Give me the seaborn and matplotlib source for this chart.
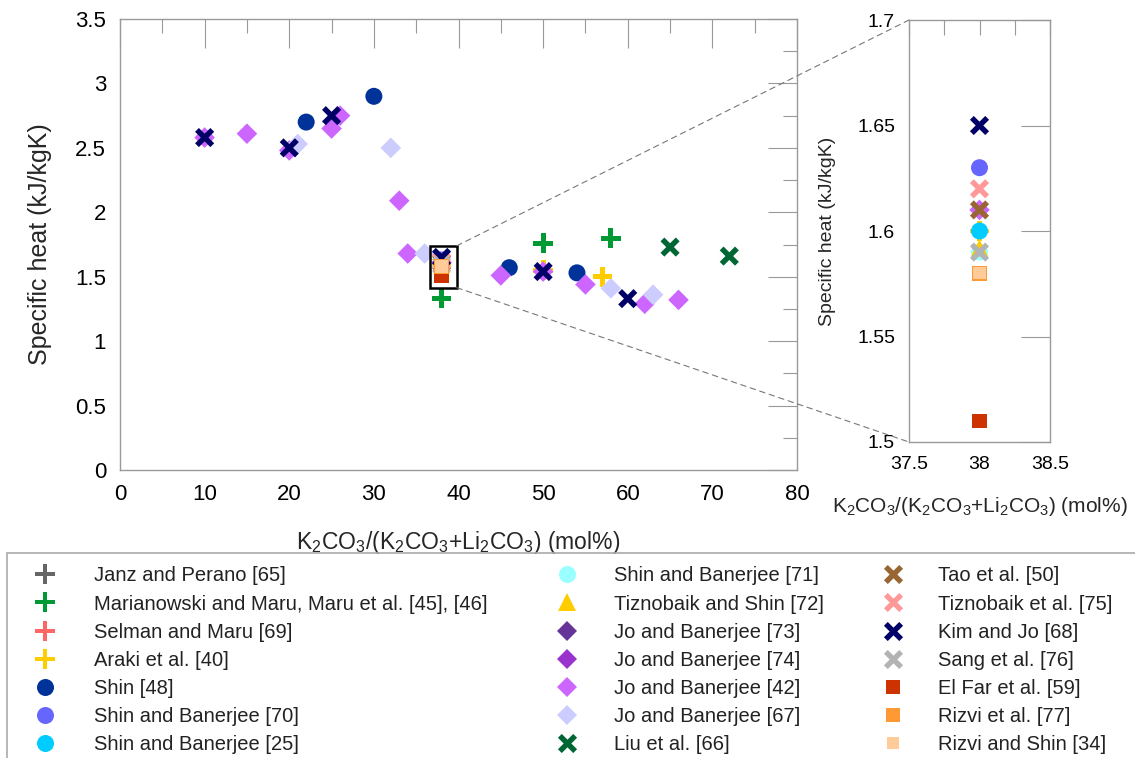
import numpy as np
import pandas as pd
import matplotlib
matplotlib.use("Agg")
import matplotlib.pyplot as plt
import seaborn as sns
from matplotlib.lines import Line2D
from matplotlib.patches import Rectangle, ConnectionPatch
from matplotlib.ticker import FormatStrFormatter

# ---------------------------------------------------------------- data
studies = [
    "Janz and Perano [65]",
    "Marianowski and Maru, Maru et al. [45], [46]",
    "Selman and Maru [69]",
    "Araki et al. [40]",
    "Shin [48]",
    "Shin and Banerjee [70]",
    "Shin and Banerjee [25]",
    "Shin and Banerjee [71]",
    "Tiznobaik and Shin [72]",
    "Jo and Banerjee [73]",
    "Jo and Banerjee [74]",
    "Jo and Banerjee [42]",
    "Jo and Banerjee [67]",
    "Liu et al. [66]",
    "Tao et al. [50]",
    "Tiznobaik et al. [75]",
    "Kim and Jo [68]",
    "Sang et al. [76]",
    "El Far et al. [59]",
    "Rizvi et al. [77]",
    "Rizvi and Shin [34]",
]

# K2CO3 fraction (mol%) and specific heat (kJ/kgK) for each study
janz_x, janz_y = [], []
maru_x, maru_y = [38, 50, 58], [1.33, 1.76, 1.80]
selman_x, selman_y = [], []
araki_x, araki_y = [38, 50, 57], [1.60, 1.55, 1.50]
shin48_x, shin48_y = [22, 30, 46, 54], [2.70, 2.90, 1.57, 1.53]
shin70_x, shin70_y = [38], [1.63]
shin25_x, shin25_y = [38], [1.60]
shin71_x, shin71_y = [38], [1.59]
tiz72_x, tiz72_y = [38], [1.592]
jo73_x, jo73_y = [], []
jo74_x, jo74_y = [], []
jo42_x = [10, 15, 20, 25, 26, 33, 34, 38, 45, 50, 55, 62, 66]
jo42_y = [2.58, 2.61, 2.48, 2.65, 2.75, 2.09, 1.68, 1.61, 1.51, 1.54, 1.44, 1.29, 1.32]
jo67_x, jo67_y = [21, 32, 36, 58, 63], [2.53, 2.50, 1.68, 1.41, 1.36]
liu_x, liu_y = [65, 72], [1.73, 1.66]
tao_x, tao_y = [38], [1.61]
tiz75_x, tiz75_y = [38], [1.62]
kim_x, kim_y = [10, 20, 25, 38, 50, 60], [2.58, 2.50, 2.75, 1.65, 1.54, 1.33]
sang_x, sang_y = [38], [1.59]
elfar_x, elfar_y = [38], [1.51]
rizvi77_x, rizvi77_y = [38], [1.58]
rizvi34_x, rizvi34_y = [38], [1.58]

series_x = [janz_x, maru_x, selman_x, araki_x, shin48_x, shin70_x, shin25_x,
            shin71_x, tiz72_x, jo73_x, jo74_x, jo42_x, jo67_x, liu_x, tao_x,
            tiz75_x, kim_x, sang_x, elfar_x, rizvi77_x, rizvi34_x]
series_y = [janz_y, maru_y, selman_y, araki_y, shin48_y, shin70_y, shin25_y,
            shin71_y, tiz72_y, jo73_y, jo74_y, jo42_y, jo67_y, liu_y, tao_y,
            tiz75_y, kim_y, sang_y, elfar_y, rizvi77_y, rizvi34_y]

main_xticks = [0, 10, 20, 30, 40, 50, 60, 70, 80]
main_yticks = [0, 0.5, 1, 1.5, 2, 2.5, 3, 3.5]
inset_xticks = [37.5, 38, 38.5]
inset_yticks = [1.5, 1.55, 1.6, 1.65, 1.7]

colors = ["#666666", "#009933", "#ff6666", "#ffcc00", "#003399", "#6666ff",
          "#00ccff", "#99ffff", "#ffcc00", "#663399", "#9933cc", "#cc66ff",
          "#ccccff", "#006633", "#996633", "#ff9999", "#000066", "#b3b3b3",
          "#cc3300", "#ff9933", "#ffcc99"]

# ---------------------------------------------------------------- markers
w = 0.125
plus_verts = [(-w, -0.5), (w, -0.5), (w, -w), (0.5, -w), (0.5, w), (w, w),
              (w, 0.5), (-w, 0.5), (-w, w), (-0.5, w), (-0.5, -w), (-w, -w)]
c, s_ = np.cos(np.pi / 4), np.sin(np.pi / 4)
cross_verts = [(x * c - y * s_, x * s_ + y * c) for x, y in plus_verts]

kind = ["plus", "plus", "plus", "plus", "circle", "circle", "circle", "circle",
        "tri", "dia", "dia", "dia", "dia", "cross", "cross", "cross", "cross",
        "cross", "sq", "sq", "sq_small"]
kind_marker = {"plus": plus_verts, "circle": "o", "tri": "^", "dia": "D",
               "cross": cross_verts, "sq": "s", "sq_small": "s"}
kind_size = {"plus": 200, "circle": 150, "tri": 150, "dia": 110,
             "cross": 190, "sq": 112, "sq_small": 80}

palette = dict(zip(studies, colors))
markers = {st: kind_marker[k] for st, k in zip(studies, kind)}
sizes = {st: kind_size[k] for st, k in zip(studies, kind)}

df = pd.DataFrame({
    "study": np.concatenate([[st] * len(xs) for st, xs in zip(studies, series_x)]),
    "x": np.concatenate([np.asarray(xs, float) for xs in series_x]),
    "y": np.concatenate([np.asarray(ys, float) for ys in series_y]),
})

# ---------------------------------------------------------------- style
sns.set_theme(style="white")
plt.rcParams["font.family"] = ["Liberation Sans", "DejaVu Sans"]
plt.rcParams["mathtext.fontset"] = "custom"
plt.rcParams["mathtext.rm"] = "Liberation Sans"
plt.rcParams["mathtext.it"] = "Liberation Sans:italic"
plt.rcParams["mathtext.default"] = "regular"

spine_col = "#999999"
tick_col = "#999999"

fig = plt.figure(figsize=(11.35, 7.58), dpi=100)
ax = fig.add_axes([120 / 1135, 1 - 470 / 758, 677 / 1135, 451 / 758])
axins = fig.add_axes([909 / 1135, 1 - 442 / 758, 141 / 1135, 422 / 758])

for a in (ax, axins):
    sns.scatterplot(data=df, x="x", y="y", hue="study", style="study",
                    size="study", hue_order=studies, style_order=studies,
                    size_order=studies, palette=palette, markers=markers,
                    sizes=sizes, linewidth=0, legend=False, ax=a, zorder=3)
    for sp in a.spines.values():
        sp.set_color(spine_col)
        sp.set_linewidth(1.0)

# main axes
ax.set_xlim(0, 80)
ax.set_ylim(0, 3.5)
ax.set_xticks(main_xticks)
ax.set_xticks(np.arange(5, 80, 10), minor=True)
ax.set_yticks(main_yticks)
ax.set_yticks(np.arange(0.25, 3.5, 0.5), minor=True)
ax.xaxis.set_major_formatter(FormatStrFormatter("%g"))
ax.yaxis.set_major_formatter(FormatStrFormatter("%g"))
ax.tick_params(which="both", direction="in", top=True, right=True,
               color=tick_col, width=0.8, labelsize=16, pad=10,
               labelcolor="black")
ax.tick_params(which="major", length=21)
ax.tick_params(which="minor", length=10)
ax.set_xlabel("K$_2$CO$_3$/(K$_2$CO$_3$+Li$_2$CO$_3$) (mol%)", fontsize=16.5)
ax.set_ylabel("Specific heat (kJ/kgK)", fontsize=18)
ax.xaxis.set_label_coords(0.5, -0.13)
ax.yaxis.set_label_coords(-0.10, 0.5)

# inset axes
axins.set_xlim(37.5, 38.5)
axins.set_ylim(1.5, 1.7)
axins.set_xticks(inset_xticks)
axins.set_xticks([37.75, 38.25], minor=True)
axins.set_yticks(inset_yticks)
axins.xaxis.set_major_formatter(FormatStrFormatter("%g"))
axins.yaxis.set_major_formatter(FormatStrFormatter("%g"))
axins.tick_params(which="both", direction="in", top=True, right=True,
                  color=tick_col, width=0.8, labelsize=14, pad=10,
                  labelcolor="black")
axins.tick_params(axis="x", which="both", length=11)
axins.tick_params(axis="y", which="major", length=21)
axins.set_xlabel("K$_2$CO$_3$/(K$_2$CO$_3$+Li$_2$CO$_3$) (mol%)", fontsize=15)
axins.set_ylabel("Specific heat (kJ/kgK)", fontsize=14)
axins.xaxis.set_label_coords(0.5, -0.125)
axins.yaxis.set_label_coords(-0.52, 0.5)

# zoom box and connectors
ax.add_patch(Rectangle((36.6, 1.415), 3.2, 0.325, fill=False,
                       ec="black", lw=1.8, zorder=5))
for ya, yb in ((1.74, 1.7), (1.415, 1.5)):
    con = ConnectionPatch(xyA=(39.8, ya), coordsA=ax.transData,
                          xyB=(37.5, yb), coordsB=axins.transData,
                          color="#777777", lw=0.8, linestyle=(0, (5, 4)))
    fig.add_artist(con)

# ---------------------------------------------------------------- legend
handles = [Line2D([], [], linestyle="none", marker=markers[st],
                  markersize=np.sqrt(sizes[st]), color=palette[st],
                  markeredgewidth=0) for st in studies]
col_x = [30 / 1135, 552 / 1135, 878 / 1135]
col_pad = [1.7, 1.6, 1.5]
for i, (x0, pad) in enumerate(zip(col_x, col_pad)):
    leg = fig.legend(handles[7 * i:7 * i + 7], studies[7 * i:7 * i + 7],
                     loc="upper left", bbox_to_anchor=(x0, 0.2528),
                     frameon=False, fontsize=14.5, handlelength=1.5,
                     handletextpad=pad, labelspacing=0.455, borderpad=0,
                     borderaxespad=0)
    for t in leg.get_texts():
        t.set_color("#222222")

fig.add_artist(Rectangle((7 / 1135, -0.05), 1.2, 0.2704 + 0.05,
                         transform=fig.transFigure, fill=False,
                         ec="#aaaaaa", lw=1.2))

fig.savefig("out.png", dpi=100)
